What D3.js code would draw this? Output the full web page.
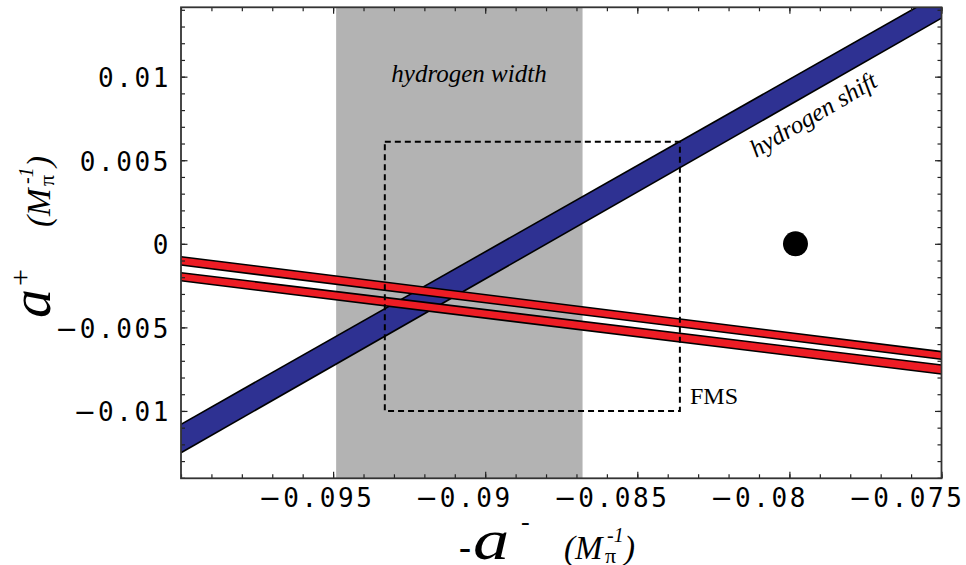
<!DOCTYPE html>
<html>
<head>
<meta charset="utf-8">
<style>
  body { margin: 0; background: #fff; }
  svg { display: block; }
  .tick-label { font-family: "DejaVu Sans Mono", monospace; font-size: 26px; letter-spacing: 2.6px; fill: #000; }
  .tick-minus { font-family: "DejaVu Sans", sans-serif; font-size: 27px; fill: #000; }
  .serif { font-family: "Liberation Serif", "Times New Roman", serif; fill: #000; }
</style>
</head>
<body>
<div id="chart"></div>
<script src="https://d3js.org/d3.v7.min.js"></script>
<script>

// axis ticks and labels
var xTicks = [-0.095, -0.09, -0.085, -0.08, -0.075];
var xTickLabels = ["\u22120.095", "\u22120.09", "\u22120.085", "\u22120.08", "\u22120.075"];
var yTicks = [-0.01, -0.005, 0, 0.005, 0.01];
var yTickLabels = ["\u22120.01", "\u22120.005", "0", "0.005", "0.01"];

// band edges are given at the two ends of the x range
var bandX = [-0.1, -0.075];
var shiftUpper = [-0.0108, 0.0150];
var shiftLower = [-0.0125, 0.0135];
var red1Upper = [-0.00077, -0.00645];
var red1Lower = [-0.00127, -0.00691];
var red2Upper = [-0.00173, -0.00725];
var red2Lower = [-0.00221, -0.00779];

// hydrogen width (x range) and FMS box
var widthBand = [-0.0949, -0.0868];
var fmsX = [-0.0933, -0.0836];
var fmsY = [-0.01, 0.0061];
var point = [-0.0798, 0];

var W = 966, H = 565;
var margin = {top: 7.3, right: 24.5, bottom: 86.7, left: 181},
    width = W - margin.left - margin.right,
    height = H - margin.top - margin.bottom;

var svg = d3.select("#chart")
  .append("svg")
    .attr("width", W)
    .attr("height", H);

var g = svg.append("g")
    .attr("transform", "translate(" + margin.left + "," + margin.top + ")");

var x = d3.scaleLinear().domain([-0.1, -0.075]).range([0, width]);
var y = d3.scaleLinear().domain([-0.01403, 0.01415]).range([height, 0]);

g.append("clipPath").attr("id", "plot-clip")
  .append("rect").attr("width", width).attr("height", height);

var plot = g.append("g").attr("clip-path", "url(#plot-clip)");

// grey hydrogen width region
plot.append("rect")
  .attr("x", x(widthBand[0]))
  .attr("y", 0)
  .attr("width", x(widthBand[1]) - x(widthBand[0]))
  .attr("height", height)
  .style("fill", "#b3b3b3");

function drawBand(upper, lower, color) {
  var pts = [
    [x(bandX[0]), y(upper[0])], [x(bandX[1]), y(upper[1])],
    [x(bandX[1]), y(lower[1])], [x(bandX[0]), y(lower[0])]
  ];
  plot.append("polygon")
    .attr("points", pts.map(function (p) { return p.join(","); }).join(" "))
    .style("fill", color);
  [upper, lower].forEach(function (e) {
    plot.append("line")
      .attr("x1", x(bandX[0])).attr("y1", y(e[0]))
      .attr("x2", x(bandX[1])).attr("y2", y(e[1]))
      .style("stroke", "#000")
      .style("stroke-width", 1.6);
  });
}

drawBand(shiftUpper, shiftLower, "#2e3192");
drawBand(red1Upper, red1Lower, "#ed1c24");
drawBand(red2Upper, red2Lower, "#ed1c24");

// FMS box
plot.append("rect")
  .attr("x", x(fmsX[0]))
  .attr("y", y(fmsY[1]))
  .attr("width", x(fmsX[1]) - x(fmsX[0]))
  .attr("height", y(fmsY[0]) - y(fmsY[1]))
  .style("fill", "none")
  .style("stroke", "#000")
  .style("stroke-width", 2)
  .style("stroke-dasharray", "6,4");

plot.append("circle")
  .attr("cx", x(point[0]))
  .attr("cy", y(point[1]))
  .attr("r", 12.5)
  .style("fill", "#000");

// ticks on all four sides, pointing inwards
var xMinor = d3.range(-100, -74).map(function (d) { return d / 1000; });
var yMinor = d3.range(-14, 15).map(function (d) { return d / 1000; });

function tickAxis(axis, vals, size, tr) {
  var a = g.append("g")
    .attr("transform", tr)
    .call(axis.tickValues(vals).tickSize(size).tickFormat(""));
  a.select(".domain").remove();
  a.selectAll("line").style("stroke", "#222").style("stroke-width", 1.2);
  return a;
}
tickAxis(d3.axisBottom(x), xMinor, -4, "translate(0," + height + ")");
tickAxis(d3.axisBottom(x), xTicks, -6.5, "translate(0," + height + ")");
tickAxis(d3.axisTop(x), xMinor, -4, "translate(0,0)");
tickAxis(d3.axisTop(x), xTicks, -6.5, "translate(0,0)");
tickAxis(d3.axisLeft(y), yMinor, -4, "translate(0,0)");
tickAxis(d3.axisLeft(y), yTicks, -6.5, "translate(0,0)");
tickAxis(d3.axisRight(y), yMinor, -4, "translate(" + width + ",0)");
tickAxis(d3.axisRight(y), yTicks, -6.5, "translate(" + width + ",0)");

g.append("rect")
  .attr("width", width)
  .attr("height", height)
  .style("fill", "none")
  .style("stroke", "#333")
  .style("stroke-width", 1.8);

// tick labels: the number is placed on the tick, the minus hangs off to the left
var fs = 26, ls = 2.6, pitch = 0.602 * fs + ls, minusOff = 28;
function numWidth(s) { return s.length * pitch - ls; }

var xl = xTickLabels.map(function (lab, i) {
  var neg = lab[0] === "\u2212";
  var num = neg ? lab.slice(1) : lab;
  var left = x(xTicks[i]) - numWidth(num) / 2;
  return {num: num, neg: neg, left: left};
});
// keep the last label inside the picture, then keep a gap between neighbours
var maxRight = 962 - margin.left, minGap = 40;
for (var i = xl.length - 1; i >= 0; i--) {
  var limit = i === xl.length - 1 ? maxRight
    : xl[i + 1].left - (xl[i + 1].neg ? minusOff : 0) - minGap;
  var r = xl[i].left + numWidth(xl[i].num);
  if (r > limit) xl[i].left -= r - limit;
}

var xlg = g.append("g").selectAll("g")
  .data(xl)
  .enter()
  .append("g");
xlg.append("text")
  .attr("class", "tick-label")
  .attr("x", function (d) { return d.left; })
  .attr("y", height + 28.7)
  .text(function (d) { return d.num; });
xlg.filter(function (d) { return d.neg; })
  .append("text")
  .attr("class", "tick-minus")
  .attr("x", function (d) { return d.left - 2; })
  .attr("y", height + 28.7)
  .attr("text-anchor", "end")
  .text("\u2212");

var yl = yTickLabels.map(function (lab, i) {
  var neg = lab[0] === "\u2212";
  var num = neg ? lab.slice(1) : lab;
  return {num: num, neg: neg, left: -12.5 - numWidth(num), y: y(yTicks[i]) + 10.5};
});
var ylg = g.append("g").selectAll("g")
  .data(yl)
  .enter()
  .append("g");
ylg.append("text")
  .attr("class", "tick-label")
  .attr("x", function (d) { return d.left; })
  .attr("y", function (d) { return d.y; })
  .text(function (d) { return d.num; });
ylg.filter(function (d) { return d.neg; })
  .append("text")
  .attr("class", "tick-minus")
  .attr("x", function (d) { return d.left - 2; })
  .attr("y", function (d) { return d.y; })
  .attr("text-anchor", "end")
  .text("\u2212");

// labels inside the plot
g.append("text")
  .attr("class", "serif")
  .attr("x", 469 - margin.left)
  .attr("y", 82.5 - margin.top)
  .attr("text-anchor", "middle")
  .style("font-size", "25px")
  .style("font-style", "italic")
  .text("hydrogen width");

g.append("text")
  .attr("class", "serif")
  .attr("transform", "translate(" + (756 - margin.left) + "," + (158 - margin.top) + ") rotate(-30.5)")
  .style("font-size", "25px")
  .style("font-style", "italic")
  .text("hydrogen shift");

g.append("text")
  .attr("class", "serif")
  .attr("x", 690 - margin.left)
  .attr("y", 404 - margin.top)
  .style("font-size", "24px")
  .text("FMS");

// axis titles
function axisTitle(tr, sup, supU, supV, supSize, aStretch, lead) {
  var t = svg.append("g").attr("transform", tr);
  function piece(str, u, v, size, italic) {
    return t.append("text")
      .attr("class", "serif")
      .attr("x", u)
      .attr("y", v)
      .style("font-size", size + "px")
      .style("font-style", italic ? "italic" : "normal")
      .text(str);
  }
  if (lead) {
    t.append("text")
      .attr("class", "serif")
      .attr("x", -4)
      .attr("y", 0)
      .attr("text-anchor", "end")
      .style("font-size", "36px")
      .style("font-weight", "bold")
      .text("-");
  }
  piece("a", -2 / aStretch, 0, 58, true)
    .attr("transform", "scale(" + aStretch + ",1)");
  piece(sup, supU, supV, supSize, false);
  piece("(M", 89, 0, 33, true);
  piece("\u03c0", 130, 4, 22, false);
  piece("-1", 132, -17, 20, true);
  piece(")", 149, 0, 33, true);
}

axisTitle("translate(475,558.5)", "-", 46, -29, 26, 1.25, true);
axisTitle("translate(49.5,316) rotate(-90)", "+", 30, -20, 30, 1, false);

</script>
</body>
</html>
